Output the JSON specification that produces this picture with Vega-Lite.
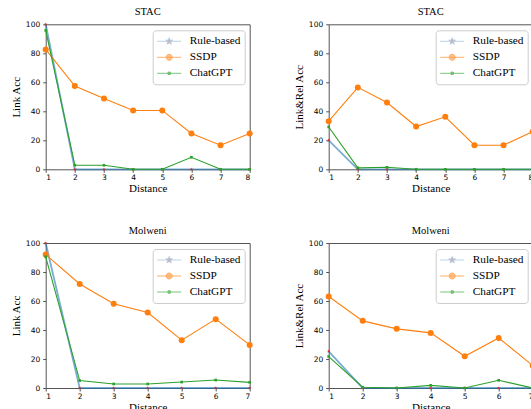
{
  "$schema": "https://vega.github.io/schema/vega-lite/v6.json",
  "autosize": {"type": "none"},
  "padding": {"left": 45.7, "top": 24.3, "right": 485.3, "bottom": 384.7},
  "background": "white",
  "datasets": {
    "stac_link": [
      {"d": 1, "model": "Rule-based", "acc": 100}, {"d": 2, "model": "Rule-based", "acc": 0}, {"d": 3, "model": "Rule-based", "acc": 0}, {"d": 4, "model": "Rule-based", "acc": 0},
      {"d": 5, "model": "Rule-based", "acc": 0}, {"d": 6, "model": "Rule-based", "acc": 0}, {"d": 7, "model": "Rule-based", "acc": 0}, {"d": 8, "model": "Rule-based", "acc": 0},
      {"d": 1, "model": "SSDP", "acc": 82.7}, {"d": 2, "model": "SSDP", "acc": 57.4}, {"d": 3, "model": "SSDP", "acc": 48.8}, {"d": 4, "model": "SSDP", "acc": 40.6},
      {"d": 5, "model": "SSDP", "acc": 40.6}, {"d": 6, "model": "SSDP", "acc": 24.7}, {"d": 7, "model": "SSDP", "acc": 16.6}, {"d": 8, "model": "SSDP", "acc": 24.7},
      {"d": 1, "model": "ChatGPT", "acc": 95.8}, {"d": 2, "model": "ChatGPT", "acc": 2.8}, {"d": 3, "model": "ChatGPT", "acc": 2.8}, {"d": 4, "model": "ChatGPT", "acc": 0},
      {"d": 5, "model": "ChatGPT", "acc": 0}, {"d": 6, "model": "ChatGPT", "acc": 8.3}, {"d": 7, "model": "ChatGPT", "acc": 0}, {"d": 8, "model": "ChatGPT", "acc": 0}
    ],
    "stac_rel": [
      {"d": 1, "model": "Rule-based", "acc": 20}, {"d": 2, "model": "Rule-based", "acc": 0}, {"d": 3, "model": "Rule-based", "acc": 0}, {"d": 4, "model": "Rule-based", "acc": 0},
      {"d": 5, "model": "Rule-based", "acc": 0}, {"d": 6, "model": "Rule-based", "acc": 0}, {"d": 7, "model": "Rule-based", "acc": 0}, {"d": 8, "model": "Rule-based", "acc": 0},
      {"d": 1, "model": "SSDP", "acc": 33.2}, {"d": 2, "model": "SSDP", "acc": 56.5}, {"d": 3, "model": "SSDP", "acc": 46.1}, {"d": 4, "model": "SSDP", "acc": 29.5},
      {"d": 5, "model": "SSDP", "acc": 36.2}, {"d": 6, "model": "SSDP", "acc": 16.6}, {"d": 7, "model": "SSDP", "acc": 16.6}, {"d": 8, "model": "SSDP", "acc": 26},
      {"d": 1, "model": "ChatGPT", "acc": 29.2}, {"d": 2, "model": "ChatGPT", "acc": 1}, {"d": 3, "model": "ChatGPT", "acc": 1.4}, {"d": 4, "model": "ChatGPT", "acc": 0},
      {"d": 5, "model": "ChatGPT", "acc": 0}, {"d": 6, "model": "ChatGPT", "acc": 0}, {"d": 7, "model": "ChatGPT", "acc": 0}, {"d": 8, "model": "ChatGPT", "acc": 0}
    ],
    "mol_link": [
      {"d": 1, "model": "Rule-based", "acc": 100}, {"d": 2, "model": "Rule-based", "acc": 0}, {"d": 3, "model": "Rule-based", "acc": 0}, {"d": 4, "model": "Rule-based", "acc": 0},
      {"d": 5, "model": "Rule-based", "acc": 0}, {"d": 6, "model": "Rule-based", "acc": 0}, {"d": 7, "model": "Rule-based", "acc": 0},
      {"d": 1, "model": "SSDP", "acc": 92}, {"d": 2, "model": "SSDP", "acc": 71.7}, {"d": 3, "model": "SSDP", "acc": 58.1}, {"d": 4, "model": "SSDP", "acc": 52.1},
      {"d": 5, "model": "SSDP", "acc": 33}, {"d": 6, "model": "SSDP", "acc": 47.5}, {"d": 7, "model": "SSDP", "acc": 29.7},
      {"d": 1, "model": "ChatGPT", "acc": 90.5}, {"d": 2, "model": "ChatGPT", "acc": 5.1}, {"d": 3, "model": "ChatGPT", "acc": 2.8}, {"d": 4, "model": "ChatGPT", "acc": 2.8},
      {"d": 5, "model": "ChatGPT", "acc": 4.1}, {"d": 6, "model": "ChatGPT", "acc": 5.5}, {"d": 7, "model": "ChatGPT", "acc": 3.9}
    ],
    "mol_rel": [
      {"d": 1, "model": "Rule-based", "acc": 25.3}, {"d": 2, "model": "Rule-based", "acc": 0}, {"d": 3, "model": "Rule-based", "acc": 0}, {"d": 4, "model": "Rule-based", "acc": 0},
      {"d": 5, "model": "Rule-based", "acc": 0}, {"d": 6, "model": "Rule-based", "acc": 0}, {"d": 7, "model": "Rule-based", "acc": 0},
      {"d": 1, "model": "SSDP", "acc": 63.1}, {"d": 2, "model": "SSDP", "acc": 46.3}, {"d": 3, "model": "SSDP", "acc": 40.8}, {"d": 4, "model": "SSDP", "acc": 38},
      {"d": 5, "model": "SSDP", "acc": 21.9}, {"d": 6, "model": "SSDP", "acc": 34.5}, {"d": 7, "model": "SSDP", "acc": 15.5},
      {"d": 1, "model": "ChatGPT", "acc": 21.7}, {"d": 2, "model": "ChatGPT", "acc": 0.5}, {"d": 3, "model": "ChatGPT", "acc": 0}, {"d": 4, "model": "ChatGPT", "acc": 1.8},
      {"d": 5, "model": "ChatGPT", "acc": 0}, {"d": 6, "model": "ChatGPT", "acc": 5.3}, {"d": 7, "model": "ChatGPT", "acc": 0}
    ]
  },
  "columns": 2,
  "spacing": {"row": 73.7, "column": 79},
  "bounds": "flush",
  "resolve": {"scale": {"x": "independent", "y": "independent", "color": "independent", "fill": "independent", "stroke": "independent", "shape": "independent"}, "legend": {"fill": "independent", "stroke": "independent", "shape": "independent"}},
  "concat": [
    {
      "width": 204, "height": 145,
      "title": "STAC",
      "data": {"name": "stac_link"},
      "encoding": {
        "x": {"field": "d", "type": "quantitative", "scale": {"domain": [1, 8], "nice": false}, "axis": {"title": "Distance", "values": [1, 2, 3, 4, 5, 6, 7, 8], "format": "d"}},
        "y": {"field": "acc", "type": "quantitative", "scale": {"domain": [0, 100], "nice": false}, "axis": {"title": "Link Acc", "values": [0, 20, 40, 60, 80, 100]}}
      },
      "layer": [
        {"transform": [{"filter": "datum.model === 'Rule-based'"}], "mark": {"type": "line", "color": "#1f77b4", "strokeWidth": 1.8, "opacity": 0.6}},
        {"transform": [{"filter": "datum.model === 'SSDP'"}], "mark": {"type": "line", "color": "#ff7f0e", "strokeWidth": 1.1}},
        {"transform": [{"filter": "datum.model === 'ChatGPT'"}], "mark": {"type": "line", "color": "#2ca02c", "strokeWidth": 1.1}},
        {"transform": [{"filter": "datum.model === 'Rule-based'"}], "mark": {"type": "point", "filled": true, "opacity": 1, "color": "#d62728", "size": 14, "shape": "M0,-1L0.235,-0.324L0.951,-0.309L0.38,0.124L0.588,0.809L0,0.4L-0.588,0.809L-0.38,0.124L-0.951,-0.309L-0.235,-0.324Z"}},
        {"transform": [{"filter": "datum.model === 'SSDP'"}], "mark": {"type": "point", "filled": true, "opacity": 1, "color": "#ff7f0e", "size": 36, "shape": "circle"}},
        {"transform": [{"filter": "datum.model === 'ChatGPT'"}], "mark": {"type": "point", "filled": true, "opacity": 1, "color": "#2ca02c", "size": 7, "shape": "square"}},
        {"transform": [{"filter": "datum.acc < -1"}], "mark": {"type": "point", "filled": true},
          "encoding": {
            "shape": {"field": "model", "type": "nominal", "scale": {"domain": ["Rule-based", "SSDP", "ChatGPT"], "range": ["M-1,0L1,0M0,-0.3L0.071,-0.097L0.285,-0.093L0.114,0.037L0.176,0.243L0,0.12L-0.176,0.243L-0.114,0.037L-0.285,-0.093L-0.071,-0.097Z", "M-1,0L1,0M0.25,0A0.25,0.25,0,1,1,-0.25,0A0.25,0.25,0,1,1,0.25,0Z", "M-1,0L1,0M-0.1,-0.1L0.1,-0.1L0.1,0.1L-0.1,0.1Z"]}, "legend": {"title": null}},
            "fill": {"field": "model", "type": "nominal", "scale": {"domain": ["Rule-based", "SSDP", "ChatGPT"], "range": ["#d62728", "#ff7f0e", "#2ca02c"]}, "legend": {"title": null}},
            "stroke": {"field": "model", "type": "nominal", "scale": {"domain": ["Rule-based", "SSDP", "ChatGPT"], "range": ["#8fbbd9", "#ff7f0e", "#2ca02c"]}, "legend": {"title": null}}
          }
        }
      ]
    },
    {
      "width": 204, "height": 145,
      "title": "STAC",
      "data": {"name": "stac_rel"},
      "encoding": {
        "x": {"field": "d", "type": "quantitative", "scale": {"domain": [1, 8], "nice": false}, "axis": {"title": "Distance", "values": [1, 2, 3, 4, 5, 6, 7, 8], "format": "d"}},
        "y": {"field": "acc", "type": "quantitative", "scale": {"domain": [0, 100], "nice": false}, "axis": {"title": "Link&Rel Acc", "values": [0, 20, 40, 60, 80, 100]}}
      },
      "layer": [
        {"transform": [{"filter": "datum.model === 'Rule-based'"}], "mark": {"type": "line", "color": "#1f77b4", "strokeWidth": 1.8, "opacity": 0.6}},
        {"transform": [{"filter": "datum.model === 'SSDP'"}], "mark": {"type": "line", "color": "#ff7f0e", "strokeWidth": 1.1}},
        {"transform": [{"filter": "datum.model === 'ChatGPT'"}], "mark": {"type": "line", "color": "#2ca02c", "strokeWidth": 1.1}},
        {"transform": [{"filter": "datum.model === 'Rule-based'"}], "mark": {"type": "point", "filled": true, "opacity": 1, "color": "#d62728", "size": 14, "shape": "M0,-1L0.235,-0.324L0.951,-0.309L0.38,0.124L0.588,0.809L0,0.4L-0.588,0.809L-0.38,0.124L-0.951,-0.309L-0.235,-0.324Z"}},
        {"transform": [{"filter": "datum.model === 'SSDP'"}], "mark": {"type": "point", "filled": true, "opacity": 1, "color": "#ff7f0e", "size": 36, "shape": "circle"}},
        {"transform": [{"filter": "datum.model === 'ChatGPT'"}], "mark": {"type": "point", "filled": true, "opacity": 1, "color": "#2ca02c", "size": 7, "shape": "square"}},
        {"transform": [{"filter": "datum.acc < -1"}], "mark": {"type": "point", "filled": true},
          "encoding": {
            "shape": {"field": "model", "type": "nominal", "scale": {"domain": ["Rule-based", "SSDP", "ChatGPT"], "range": ["M-1,0L1,0M0,-0.3L0.071,-0.097L0.285,-0.093L0.114,0.037L0.176,0.243L0,0.12L-0.176,0.243L-0.114,0.037L-0.285,-0.093L-0.071,-0.097Z", "M-1,0L1,0M0.25,0A0.25,0.25,0,1,1,-0.25,0A0.25,0.25,0,1,1,0.25,0Z", "M-1,0L1,0M-0.1,-0.1L0.1,-0.1L0.1,0.1L-0.1,0.1Z"]}, "legend": {"title": null}},
            "fill": {"field": "model", "type": "nominal", "scale": {"domain": ["Rule-based", "SSDP", "ChatGPT"], "range": ["#d62728", "#ff7f0e", "#2ca02c"]}, "legend": {"title": null}},
            "stroke": {"field": "model", "type": "nominal", "scale": {"domain": ["Rule-based", "SSDP", "ChatGPT"], "range": ["#8fbbd9", "#ff7f0e", "#2ca02c"]}, "legend": {"title": null}}
          }
        }
      ]
    },
    {
      "width": 204, "height": 145,
      "title": "Molweni",
      "data": {"name": "mol_link"},
      "encoding": {
        "x": {"field": "d", "type": "quantitative", "scale": {"domain": [1, 7], "nice": false}, "axis": {"title": "Distance", "values": [1, 2, 3, 4, 5, 6, 7], "format": "d"}},
        "y": {"field": "acc", "type": "quantitative", "scale": {"domain": [0, 100], "nice": false}, "axis": {"title": "Link Acc", "values": [0, 20, 40, 60, 80, 100]}}
      },
      "layer": [
        {"transform": [{"filter": "datum.model === 'Rule-based'"}], "mark": {"type": "line", "color": "#1f77b4", "strokeWidth": 1.8, "opacity": 0.6}},
        {"transform": [{"filter": "datum.model === 'SSDP'"}], "mark": {"type": "line", "color": "#ff7f0e", "strokeWidth": 1.1}},
        {"transform": [{"filter": "datum.model === 'ChatGPT'"}], "mark": {"type": "line", "color": "#2ca02c", "strokeWidth": 1.1}},
        {"transform": [{"filter": "datum.model === 'Rule-based'"}], "mark": {"type": "point", "filled": true, "opacity": 1, "color": "#d62728", "size": 14, "shape": "M0,-1L0.235,-0.324L0.951,-0.309L0.38,0.124L0.588,0.809L0,0.4L-0.588,0.809L-0.38,0.124L-0.951,-0.309L-0.235,-0.324Z"}},
        {"transform": [{"filter": "datum.model === 'SSDP'"}], "mark": {"type": "point", "filled": true, "opacity": 1, "color": "#ff7f0e", "size": 36, "shape": "circle"}},
        {"transform": [{"filter": "datum.model === 'ChatGPT'"}], "mark": {"type": "point", "filled": true, "opacity": 1, "color": "#2ca02c", "size": 7, "shape": "square"}},
        {"transform": [{"filter": "datum.acc < -1"}], "mark": {"type": "point", "filled": true},
          "encoding": {
            "shape": {"field": "model", "type": "nominal", "scale": {"domain": ["Rule-based", "SSDP", "ChatGPT"], "range": ["M-1,0L1,0M0,-0.3L0.071,-0.097L0.285,-0.093L0.114,0.037L0.176,0.243L0,0.12L-0.176,0.243L-0.114,0.037L-0.285,-0.093L-0.071,-0.097Z", "M-1,0L1,0M0.25,0A0.25,0.25,0,1,1,-0.25,0A0.25,0.25,0,1,1,0.25,0Z", "M-1,0L1,0M-0.1,-0.1L0.1,-0.1L0.1,0.1L-0.1,0.1Z"]}, "legend": {"title": null}},
            "fill": {"field": "model", "type": "nominal", "scale": {"domain": ["Rule-based", "SSDP", "ChatGPT"], "range": ["#d62728", "#ff7f0e", "#2ca02c"]}, "legend": {"title": null}},
            "stroke": {"field": "model", "type": "nominal", "scale": {"domain": ["Rule-based", "SSDP", "ChatGPT"], "range": ["#8fbbd9", "#ff7f0e", "#2ca02c"]}, "legend": {"title": null}}
          }
        }
      ]
    },
    {
      "width": 204, "height": 145,
      "title": "Molweni",
      "data": {"name": "mol_rel"},
      "encoding": {
        "x": {"field": "d", "type": "quantitative", "scale": {"domain": [1, 7], "nice": false}, "axis": {"title": "Distance", "values": [1, 2, 3, 4, 5, 6, 7], "format": "d"}},
        "y": {"field": "acc", "type": "quantitative", "scale": {"domain": [0, 100], "nice": false}, "axis": {"title": "Link&Rel Acc", "values": [0, 20, 40, 60, 80, 100]}}
      },
      "layer": [
        {"transform": [{"filter": "datum.model === 'Rule-based'"}], "mark": {"type": "line", "color": "#1f77b4", "strokeWidth": 1.8, "opacity": 0.6}},
        {"transform": [{"filter": "datum.model === 'SSDP'"}], "mark": {"type": "line", "color": "#ff7f0e", "strokeWidth": 1.1}},
        {"transform": [{"filter": "datum.model === 'ChatGPT'"}], "mark": {"type": "line", "color": "#2ca02c", "strokeWidth": 1.1}},
        {"transform": [{"filter": "datum.model === 'Rule-based'"}], "mark": {"type": "point", "filled": true, "opacity": 1, "color": "#d62728", "size": 14, "shape": "M0,-1L0.235,-0.324L0.951,-0.309L0.38,0.124L0.588,0.809L0,0.4L-0.588,0.809L-0.38,0.124L-0.951,-0.309L-0.235,-0.324Z"}},
        {"transform": [{"filter": "datum.model === 'SSDP'"}], "mark": {"type": "point", "filled": true, "opacity": 1, "color": "#ff7f0e", "size": 36, "shape": "circle"}},
        {"transform": [{"filter": "datum.model === 'ChatGPT'"}], "mark": {"type": "point", "filled": true, "opacity": 1, "color": "#2ca02c", "size": 7, "shape": "square"}},
        {"transform": [{"filter": "datum.acc < -1"}], "mark": {"type": "point", "filled": true},
          "encoding": {
            "shape": {"field": "model", "type": "nominal", "scale": {"domain": ["Rule-based", "SSDP", "ChatGPT"], "range": ["M-1,0L1,0M0,-0.3L0.071,-0.097L0.285,-0.093L0.114,0.037L0.176,0.243L0,0.12L-0.176,0.243L-0.114,0.037L-0.285,-0.093L-0.071,-0.097Z", "M-1,0L1,0M0.25,0A0.25,0.25,0,1,1,-0.25,0A0.25,0.25,0,1,1,0.25,0Z", "M-1,0L1,0M-0.1,-0.1L0.1,-0.1L0.1,0.1L-0.1,0.1Z"]}, "legend": {"title": null}},
            "fill": {"field": "model", "type": "nominal", "scale": {"domain": ["Rule-based", "SSDP", "ChatGPT"], "range": ["#d62728", "#ff7f0e", "#2ca02c"]}, "legend": {"title": null}},
            "stroke": {"field": "model", "type": "nominal", "scale": {"domain": ["Rule-based", "SSDP", "ChatGPT"], "range": ["#8fbbd9", "#ff7f0e", "#2ca02c"]}, "legend": {"title": null}}
          }
        }
      ]
    }
  ],
  "config": {
    "view": {"stroke": "#555555", "strokeWidth": 1},
    "title": {"font": "Liberation Serif", "fontSize": 10.5, "fontWeight": "normal", "color": "black", "offset": 3},
    "axis": {
      "grid": false, "domain": false,
      "labelFont": "DejaVu Sans", "labelFontSize": 7.5, "labelColor": "black", "labelPadding": 2,
      "tickColor": "#555555", "tickSize": 3,
      "titleFont": "Liberation Serif", "titleFontSize": 11, "titleFontWeight": "normal", "titleColor": "black"
    },
    "axisX": {"titlePadding": 2, "labelPadding": 1},
    "axisY": {"titlePadding": 4, "labelPadding": 3},
    "legend": {
      "orient": "top-right", "offset": 5.5,
      "labelFont": "Liberation Serif", "labelFontSize": 11.3, "labelColor": "black",
      "symbolSize": 576, "symbolStrokeWidth": 0.9, "clipHeight": 14, "rowPadding": 2,
      "labelOffset": 8, "padding": 4,
      "strokeColor": "#cccccc", "fillColor": "white", "cornerRadius": 3
    }
  }
}
